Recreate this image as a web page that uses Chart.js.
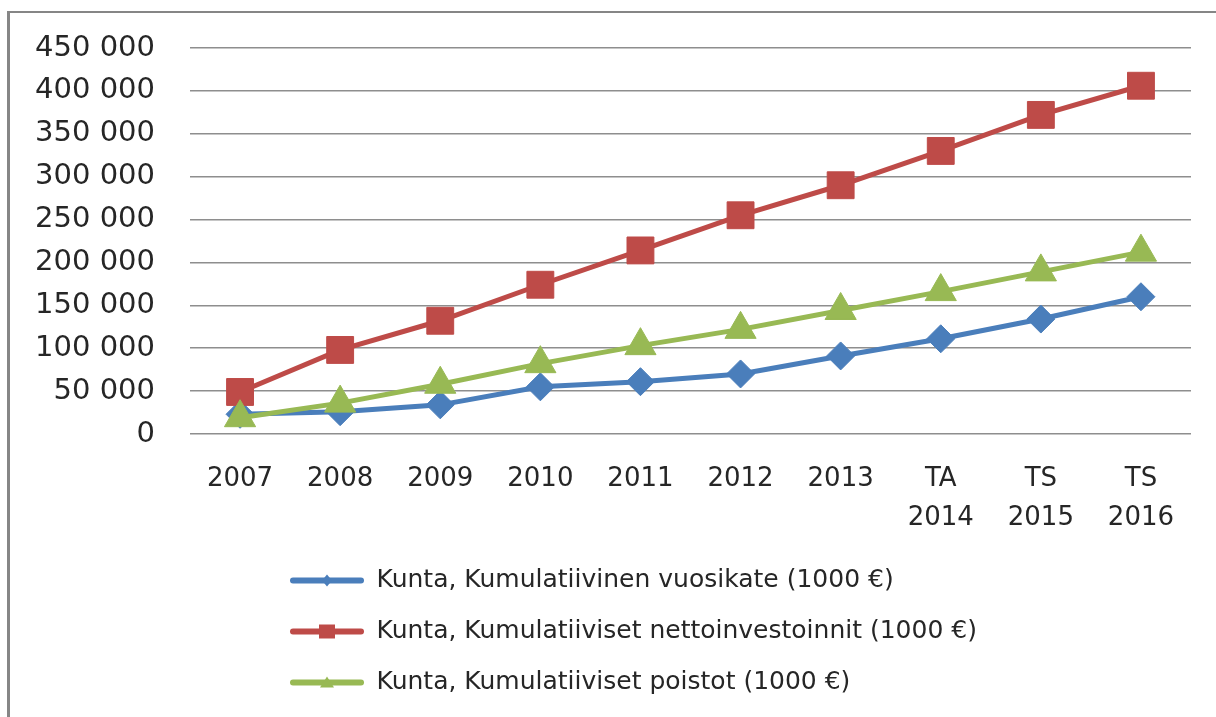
<!DOCTYPE html>
<html>
<head>
<meta charset="utf-8">
<script src="https://cdn.jsdelivr.net/npm/chart.js@4"></script>
<style>
  html, body { margin: 0; padding: 0; background: #fff; overflow: hidden; }
  .frame {
    position: absolute; left: 7px; top: 11px; width: 1300px; height: 800px;
    border-left: 3px solid #868686; border-top: 2px solid #868686;
  }
  .wrap { position: absolute; left: 0; top: 0; width: 1216px; height: 717px; }
</style>
</head>
<body>
<div class="frame"></div>
<div class="wrap"><canvas id="chart" width="1216" height="717"></canvas></div>
<script>
const years = ["2007", "2008", "2009", "2010", "2011", "2012", "2013", ["TA", "2014"], ["TS", "2015"], ["TS", "2016"]];
const vuosikate = [23000, 26000, 34000, 55000, 61000, 70000, 91000, 111000, 134000, 160000];
const nettoinvestoinnit = [49000, 98000, 132000, 174000, 214000, 255000, 290000, 330000, 372000, 406000];
const poistot = [19000, 36000, 58000, 82000, 103000, 122000, 144000, 166000, 189000, 212000];

const seriesNames = [
  "Kunta, Kumulatiivinen vuosikate (1000 €)",
  "Kunta, Kumulatiiviset nettoinvestoinnit (1000 €)",
  "Kunta, Kumulatiiviset poistot (1000 €)",
];

const BLUE = "#4a7ebb";
const RED = "#be4b48";
const GREEN = "#98b954";
const FONT = "'DejaVu Sans', sans-serif";

const LEGEND_BOX = 74;
const LEGEND_FONT = 25;
const LEGEND_PAD = 26;

function fmt(v) {
  return String(v).replace(/\B(?=(\d{3})+(?!\d))/g, " ");
}

// legend rows start at x=290; draw the marker shape on each legend line
const legendMarkers = {
  id: "legendMarkers",
  afterLayout(chart) {
    chart.legend.left = 290 - LEGEND_PAD;
  },
  afterDraw(chart) {
    const ctx = chart.ctx;
    const boxes = chart.legend.legendHitBoxes || [];
    const shapes = ["diamond", "square", "triangle"];
    const colors = [BLUE, RED, GREEN];
    boxes.forEach((hb, i) => {
      const cx = hb.left + LEGEND_BOX / 2;
      const cy = hb.top + LEGEND_FONT / 2;
      ctx.save();
      ctx.fillStyle = colors[i];
      ctx.beginPath();
      if (shapes[i] === "diamond") {
        ctx.moveTo(cx, cy - 6); ctx.lineTo(cx + 5, cy); ctx.lineTo(cx, cy + 6); ctx.lineTo(cx - 5, cy);
      } else if (shapes[i] === "square") {
        ctx.rect(cx - 8, cy - 7, 16, 14);
      } else {
        ctx.moveTo(cx, cy - 6); ctx.lineTo(cx + 7, cy + 5); ctx.lineTo(cx - 7, cy + 5);
      }
      ctx.closePath();
      ctx.fill();
      ctx.restore();
    });
  },
};

new Chart(document.getElementById("chart"), {
  type: "line",
  data: {
    labels: years,
    datasets: [
      {
        label: seriesNames[0],
        data: vuosikate,
        borderColor: BLUE,
        backgroundColor: BLUE,
        borderWidth: 5,
        pointStyle: "rectRot",
        pointRadius: 14,
        pointBorderWidth: 1,
        order: 3,
      },
      {
        label: seriesNames[1],
        data: nettoinvestoinnit,
        borderColor: RED,
        backgroundColor: RED,
        borderWidth: 5,
        pointStyle: "rect",
        pointRadius: 19,
        pointBorderWidth: 1,
        order: 2,
      },
      {
        label: seriesNames[2],
        data: poistot,
        borderColor: GREEN,
        backgroundColor: GREEN,
        borderWidth: 5,
        pointStyle: "triangle",
        pointRadius: 18,
        pointBorderWidth: 1,
        order: 1,
      },
    ],
  },
  options: {
    responsive: false,
    animation: false,
    layout: { padding: { left: 0, top: 48, right: 25, bottom: 12 } },
    plugins: {
      tooltip: { enabled: false },
      legend: {
        position: "bottom",
        align: "start",
        labels: {
          color: "#262626",
          font: { family: FONT, size: LEGEND_FONT },
          boxWidth: LEGEND_BOX,
          boxHeight: 6,
          padding: LEGEND_PAD,
          useBorderRadius: true,
          borderRadius: 3,
          sort: (a, b) => a.datasetIndex - b.datasetIndex,
          generateLabels: (chart) =>
            Chart.defaults.plugins.legend.labels
              .generateLabels(chart)
              .map((l) => ({ ...l, lineWidth: 0, fillStyle: l.strokeStyle })),
        },
      },
    },
    scales: {
      x: {
        offset: true,
        grid: { display: false },
        border: { display: false },
        ticks: {
          color: "#262626",
          font: { family: FONT, size: 26, lineHeight: 1.5 },
          padding: 18,
          maxRotation: 0,
          autoSkip: false,
        },
        afterFit: (s) => { s.height = 108; },
      },
      y: {
        min: 0,
        max: 450000,
        border: { display: false },
        grid: { color: "#8e8e8e", lineWidth: 1.5, drawTicks: false },
        ticks: {
          stepSize: 50000,
          color: "#262626",
          font: { family: FONT, size: 29 },
          padding: 35,
          callback: (v) => fmt(v),
        },
        afterFit: (s) => {
          s.width = 190;
          s.paddingTop = 0;
          s.paddingBottom = 0;
        },
      },
    },
  },
  plugins: [legendMarkers],
});
</script>
</body>
</html>
